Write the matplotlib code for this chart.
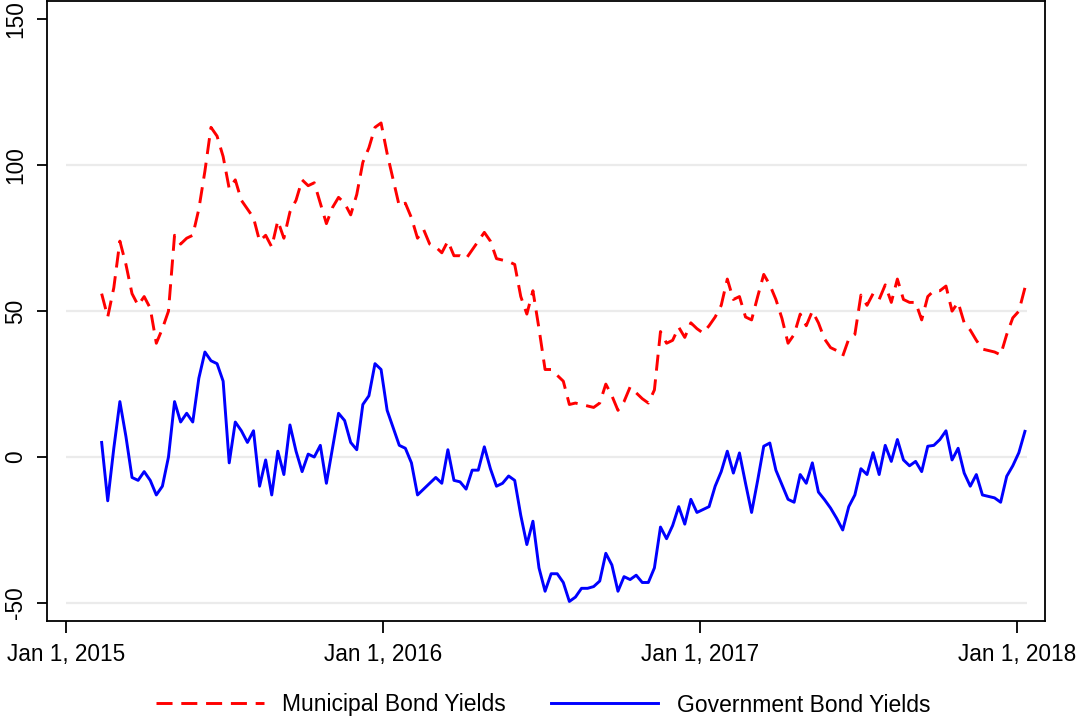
import matplotlib
matplotlib.use("Agg")
import matplotlib.pyplot as plt
import pandas as pd

# weekly readings, starting mid Feb 2015
start_date = "2015-02-11"

muni_yields = [
    56, 48, 58, 74, 66, 56, 52, 55, 51, 39,
    44, 50, 76, 73, 75, 76, 85, 98, 113, 110,
    103, 92, 95, 88, 85, 82, 74, 76, 72, 81,
    75, 84, 88, 95, 93, 94, 87, 80,
    85.5, 89, 87, 83, 90, 101, 106, 113, 114.5, 104,
    95, 86, 87, 82, 75, 78, 73, 72, 70, 74,
    69, 69, 68, 71, 74, 77, 74, 68, 67.5,
    67, 66, 55, 49, 57, 44, 30, 30, 28, 26,
    18, 18.5, 18, 17.5, 17, 18.5, 25, 21, 16, 19,
    24, 22, 20, 18.5, 23, 43, 39, 40, 44.5, 41,
    46, 44, 42.5, 45, 48, 52, 61, 54, 55, 48,
    47, 55, 62.6, 59, 54, 47.5, 39, 42, 49, 45,
    50, 46, 40.5, 37.5, 36.5, 34.6, 40.5, 42, 55.5,
    52, 56, 54, 59, 53, 61, 54, 53, 53, 47,
    55, 57, 57, 58.6, 50, 53, 46, 43.5, 40, 37,
    36.5, 36, 35, 42, 47.7, 50, 58,
]

govt_yields = [
    5, -15, 3, 19, 7, -7, -8, -5, -8, -13,
    -10, 0, 19, 12, 15, 12, 27, 36, 33, 32,
    26, -2, 12, 9, 5, 9, -10, -1, -13, 2,
    -6, 11, 2, -5, 1, 0, 4, -9,
    3, 15, 12.5, 5, 2.5, 18, 21, 32, 30, 16,
    10, 4, 3, -2, -13, -11, -9, -7, -9, 2.5,
    -8, -8.5, -11, -4.5, -4.5, 3.5, -4, -10, -9,
    -6.5, -8, -20, -30, -22, -38, -46, -40, -40, -43,
    -49.5, -48, -45, -45, -44.4, -42.5, -33, -37, -46, -41,
    -42, -40.5, -43, -43, -38, -24, -28, -23.5, -17, -23,
    -14.5, -19, -18, -17, -10, -5, 2, -5.5, 1.4, -9,
    -19, -8, 3.7, 4.8, -4.5, -9.5, -14.5, -15.5, -6, -9,
    -2, -12, -14.6, -17.5, -21, -25, -17, -13, -4,
    -6, 1.5, -6, 4, -1.5, 6, -1, -3, -1.5, -5,
    3.7, 4, 6, 9, -1, 3, -5.5, -10, -6, -13,
    -13.5, -14, -15.5, -6.6, -3, 1.5, 8.8,
]

ytick_vals = [-50, 0, 50, 100, 150]
grid_vals = [-50, 0, 50, 100]
xtick_dates = ["2015-01-01", "2016-01-01", "2017-01-01", "2018-01-01"]
xtick_labels = ["Jan 1, 2015", "Jan 1, 2016", "Jan 1, 2017", "Jan 1, 2018"]

dates = pd.date_range(start_date, periods=len(muni_yields), freq="7D")

plt.rcParams['font.family'] = ['Liberation Sans', 'DejaVu Sans']

fig = plt.figure(figsize=(10.8, 7.19), dpi=100)
ax = fig.add_axes([0.0435, 0.1363, 0.924, 0.8623])

# light horizontal grid, only across the data span
ax.hlines(grid_vals, pd.Timestamp(xtick_dates[0]), dates[-1] + pd.Timedelta(days=2),
          color="#ebebeb", lw=1.6, zorder=0)

ax.plot(dates, muni_yields, color="#ff0000", lw=2.1, dashes=(5.5, 3),
        label="Municipal Bond Yields")
ax.plot(dates, govt_yields, color="#0000ff", lw=2.1,
        label="Government Bond Yields")

ax.set_xlim(pd.Timestamp("2014-12-10"), pd.Timestamp("2018-02-02"))
ax.set_ylim(-56.2, 156.3)

ax.set_xticks(pd.to_datetime(xtick_dates))
ax.set_xticklabels(xtick_labels, fontsize=16.3)
ax.set_yticks(ytick_vals)
ax.set_yticklabels([str(v) for v in ytick_vals], fontsize=16.3, rotation=90, va="center")

ax.tick_params(axis="x", length=8.6, width=1.3, pad=7)
ax.tick_params(axis="y", length=7.2, width=1.3, pad=7)
for sp in ax.spines.values():
    sp.set_linewidth(1.3)
    sp.set_color("black")

fig.legend(loc="center", bbox_to_anchor=(0.503, 1 - 705 / 719), ncol=2, frameon=False,
           fontsize=16.5, handlelength=4.7, handletextpad=0.79, columnspacing=1.95)

fig.savefig("out.png", dpi=100)
